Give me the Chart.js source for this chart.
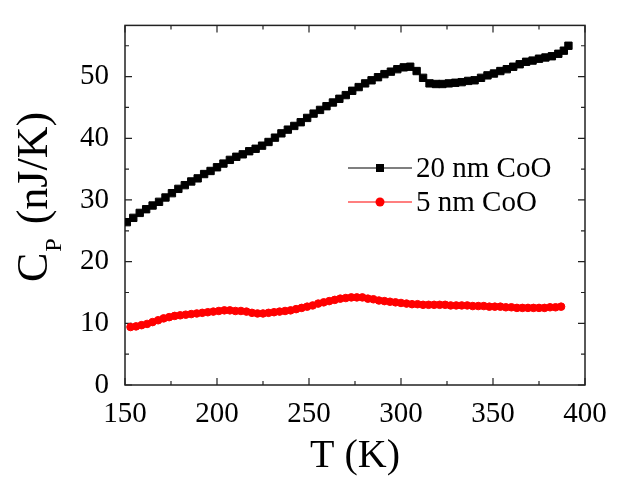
<!DOCTYPE html>
<html><head><meta charset="utf-8">
<script src="https://cdn.jsdelivr.net/npm/chart.js@4/dist/chart.umd.min.js"></script>
<style>html,body{margin:0;padding:0;background:#fff;}#wrap{width:617px;height:478px;}</style>
</head><body><div id="wrap"><canvas id="c" width="617" height="478"></canvas></div>
<script>
const seriesNames = ['20 nm CoO', '5 nm CoO'];
const t20 = [151,154.5,158,161.5,165,168.5,172,175.5,179,182.5,186,189.5,193,196.5,200,203.5,207,210.5,214,217.5,221,224.5,228,231.5,235,238.5,242,245.5,249,252.5,256,259.5,263,266.5,270,273.5,277,280.5,284,287.5,291,294.5,298,301.5,305,308.5,312,315.5,319,322.5,326,329.5,333,336.5,340,343.5,347,350.5,354,357.5,361,364.5,368,371.5,375,378.5,382,385.5,388.5,391];
const cp20 = [26.4,27.1,27.9,28.5,29.1,29.7,30.4,31.1,31.8,32.4,33.0,33.5,34.2,34.7,35.3,35.9,36.5,37.0,37.4,37.9,38.3,38.8,39.4,40.1,40.8,41.4,42.0,42.6,43.3,44.0,44.6,45.2,45.8,46.4,47.0,47.7,48.3,48.9,49.4,49.9,50.4,50.8,51.2,51.5,51.6,50.9,49.8,48.9,48.8,48.8,48.9,49.0,49.1,49.3,49.4,49.8,50.2,50.5,50.9,51.2,51.6,52.0,52.4,52.6,52.9,53.1,53.3,53.7,54.2,55.0];
const t5 = [153,156,159,162,165,168,171,174,177,180,183,186,189,192,195,198,201,204,207,210,213,216,219,222,225,228,231,234,237,240,243,246,249,252,255,258,261,264,267,270,273,276,279,282,285,288,291,294,297,300,303,306,309,312,315,318,321,324,327,330,333,336,339,342,345,348,351,354,357,360,363,366,369,372,375,378,381,384,387];
const cp5 = [9.4,9.5,9.7,9.9,10.2,10.5,10.8,11.0,11.2,11.3,11.4,11.5,11.6,11.7,11.8,11.9,12.0,12.1,12.1,12.0,12.0,11.9,11.7,11.6,11.6,11.7,11.8,11.9,12.0,12.1,12.3,12.5,12.7,12.9,13.2,13.4,13.6,13.8,14.0,14.1,14.2,14.2,14.2,14.0,13.9,13.7,13.6,13.5,13.4,13.3,13.2,13.1,13.1,13.0,13.0,13.0,13.0,13.0,12.9,12.9,12.9,12.9,12.8,12.8,12.8,12.7,12.7,12.7,12.6,12.6,12.5,12.5,12.5,12.5,12.5,12.5,12.6,12.6,12.7];
const xTicks = [150, 200, 250, 300, 350, 400];
const yTicks = [0, 10, 20, 30, 40, 50];
const xTitle = 'T (K)';
const yTitleMain = 'C', yTitleSub = 'P', yTitleRest = ' (nJ/K)';

const SERIF = '"Liberation Serif", "Times New Roman", serif';
const toXY = (xs, ys) => xs.map((x, i) => ({x: x, y: ys[i]}));

const framePlugin = {
  id: 'frame',
  beforeDatasetsDraw(chart) {
    const ctx = chart.ctx, a = chart.chartArea;
    const xs = chart.scales.x, ys = chart.scales.y;
    ctx.save();
    ctx.strokeStyle = '#222';
    ctx.lineWidth = 1.5;
    ctx.strokeRect(a.left, a.top, a.right - a.left, a.bottom - a.top);
    ctx.lineWidth = 1.2;
    ctx.beginPath();
    const xMaj = xTicks, xMin = xTicks.slice(0, -1).map((v, i) => (v + xTicks[i + 1]) / 2);
    const yMaj = yTicks, yMin = yTicks.map(v => v + 5).filter(v => v < ys.max);
    const tick = (v, len) => {
      const px = xs.getPixelForValue(v);
      ctx.moveTo(px, a.bottom); ctx.lineTo(px, a.bottom - len);
      ctx.moveTo(px, a.top); ctx.lineTo(px, a.top + len);
    };
    const tickY = (v, len) => {
      const py = ys.getPixelForValue(v);
      ctx.moveTo(a.left, py); ctx.lineTo(a.left + len, py);
      ctx.moveTo(a.right, py); ctx.lineTo(a.right - len, py);
    };
    xMaj.forEach(v => tick(v, 7)); xMin.forEach(v => tick(v, 4));
    yMaj.forEach(v => tickY(v, 7)); yMin.forEach(v => tickY(v, 4));
    ctx.stroke();
    ctx.restore();
  },
  afterDraw(chart) {
    const ctx = chart.ctx, a = chart.chartArea;
    ctx.save();
    // x title
    ctx.fillStyle = '#000';
    ctx.font = '40px ' + SERIF;
    ctx.textAlign = 'center';
    ctx.textBaseline = 'alphabetic';
    ctx.fillText(xTitle, (a.left + a.right) / 2, 467);
    // y title with subscript
    ctx.translate(47, 197);
    ctx.rotate(-Math.PI / 2);
    const fMain = '44px ' + SERIF, fSub = '24px ' + SERIF;
    ctx.font = fMain; const wC = ctx.measureText(yTitleMain).width; const wR = ctx.measureText(yTitleRest).width;
    ctx.font = fSub; const wS = ctx.measureText(yTitleSub).width;
    const total = wC + wS + wR + 4;
    let x0 = -total / 2;
    ctx.textAlign = 'left';
    ctx.font = fMain; ctx.fillText(yTitleMain, x0, 0);
    ctx.font = fSub; ctx.fillText(yTitleSub, x0 + wC + 1, 14);
    ctx.font = fMain; ctx.fillText(yTitleRest, x0 + wC + wS + 4, 0);
    ctx.restore();
    // legend
    ctx.save();
    const items = [
      {y: 168, color: '#000', style: 'rect', label: seriesNames[0]},
      {y: 202, color: '#f00', style: 'circle', label: seriesNames[1]}
    ];
    items.forEach(it => {
      ctx.strokeStyle = it.color; ctx.lineWidth = 1.2;
      ctx.beginPath(); ctx.moveTo(348, it.y); ctx.lineTo(412, it.y); ctx.stroke();
      ctx.fillStyle = it.color;
      if (it.style === 'rect') ctx.fillRect(376, it.y - 4, 8, 8);
      else { ctx.beginPath(); ctx.arc(380, it.y, 4.5, 0, Math.PI * 2); ctx.fill(); }
      ctx.fillStyle = '#000';
      ctx.font = '29px ' + SERIF;
      ctx.textAlign = 'left'; ctx.textBaseline = 'middle';
      ctx.fillText(it.label, 416, it.y + 1);
    });
    ctx.restore();
  }
};

new Chart(document.getElementById('c'), {
  type: 'scatter',
  data: {
    datasets: [
      {label: seriesNames[0], data: toXY(t20, cp20), showLine: true, borderColor: '#000', backgroundColor: '#000',
       borderWidth: 1, pointStyle: 'rect', pointRadius: 5.2, pointBorderWidth: 1, pointHoverRadius: 5.2},
      {label: seriesNames[1], data: toXY(t5, cp5), showLine: true, borderColor: '#f00', backgroundColor: '#f00',
       borderWidth: 1, pointStyle: 'circle', pointRadius: 3.8, pointBorderWidth: 1, pointHoverRadius: 3.8}
    ]
  },
  options: {
    responsive: false, animation: false,
    layout: {padding: {top: 13, right: 32, left: 0, bottom: 0}},
    plugins: {legend: {display: false}, tooltip: {enabled: false}},
    scales: {
      x: {
        type: 'linear', min: 150, max: 400,
        afterBuildTicks: s => { s.ticks = xTicks.map(v => ({value: v})); },
        afterFit: s => { s.height = 93; },
        grid: {display: false}, border: {display: false},
        ticks: {color: '#000', font: {family: SERIF, size: 29}, padding: 4, maxRotation: 0}
      },
      y: {
        type: 'linear', min: 0, max: 58.3,
        afterBuildTicks: s => { s.ticks = yTicks.map(v => ({value: v})); },
        afterFit: s => { s.width = 125; },
        grid: {display: false}, border: {display: false},
        ticks: {color: '#000', font: {family: SERIF, size: 29}, padding: 8}
      }
    }
  },
  plugins: [framePlugin]
});
</script>
</body></html>
